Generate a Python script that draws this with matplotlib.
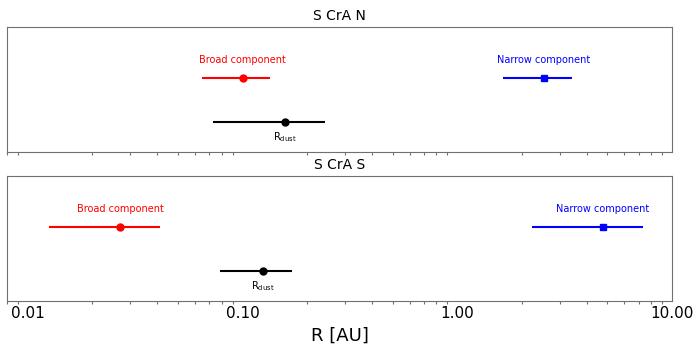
import matplotlib
matplotlib.use("Agg")
import matplotlib.pyplot as plt
from matplotlib.ticker import FixedLocator, FixedFormatter, LogLocator, NullFormatter

titles = ["S CrA N", "S CrA S"]
# broad component: value, lower, upper
broad_val = [0.100, 0.0269]
broad_lo = [0.0646, 0.0126]
broad_hi = [0.134, 0.0413]
# narrow component
narrow_val = [2.53, 4.76]
narrow_lo = [1.64, 2.23]
narrow_hi = [3.42, 7.31]
# dust radius
dust_val = [0.157, 0.124]
dust_lo = [0.0727, 0.0787]
dust_hi = [0.241, 0.170]

xticks = [0.01, 0.1, 1.0, 10.0]
xticklabels = ["0.01", "0.10", "1.00", "10.00"]

fig = plt.figure(figsize=(7, 3.5), dpi=100)
ax1 = fig.add_axes([0.01, 0.566, 0.95, 0.357])
ax2 = fig.add_axes([0.01, 0.14, 0.95, 0.356], sharex=ax1)

y_comp, y_dust = 1.0, 0.0
for i, ax in enumerate([ax1, ax2]):
    ax.errorbar([broad_val[i]], [y_comp],
                xerr=[[broad_val[i] - broad_lo[i]], [broad_hi[i] - broad_val[i]]],
                fmt='o', color='red', ms=5, lw=1.5, capsize=0)
    ax.errorbar([narrow_val[i]], [y_comp],
                xerr=[[narrow_val[i] - narrow_lo[i]], [narrow_hi[i] - narrow_val[i]]],
                fmt='s', color='blue', ms=5, lw=1.5, capsize=0)
    ax.errorbar([dust_val[i]], [y_dust],
                xerr=[[dust_val[i] - dust_lo[i]], [dust_hi[i] - dust_val[i]]],
                fmt='o', color='black', ms=5, lw=1.5, capsize=0)
    ax.annotate("Broad component", (broad_val[i], y_comp), xytext=(0, 13),
                textcoords='offset points', ha='center', va='center', color='red', fontsize=7)
    ax.annotate("Narrow component", (narrow_val[i], y_comp), xytext=(0, 13),
                textcoords='offset points', ha='center', va='center', color='blue', fontsize=7)
    ax.annotate(r"R$_{\rm dust}$", (dust_val[i], y_dust), xytext=(0, -10.5),
                textcoords='offset points', ha='center', va='center', color='black', fontsize=7)
    ax.set_xscale('log')
    ax.set_xlim(0.008, 10)
    ax.set_ylim(-0.672, 2.153)
    ax.set_yticks([])
    ax.set_title(titles[i], fontsize=10, pad=5)
    for s in ax.spines.values():
        s.set_color('#707070')
    ax.tick_params(axis='x', which='major', length=0, labelsize=11)
    ax.tick_params(axis='x', which='minor', length=2, width=0.8, color='#707070')
    ax.xaxis.set_minor_locator(LogLocator(base=10, subs=range(2, 10)))
    ax.xaxis.set_minor_formatter(NullFormatter())

ax2.xaxis.set_major_locator(FixedLocator(xticks))
ax2.xaxis.set_major_formatter(FixedFormatter(xticklabels))
ax1.tick_params(axis='x', which='both', labelbottom=False)
ax2.set_xlabel("R [AU]", fontsize=13)

fig.savefig("out.png", dpi=100)
